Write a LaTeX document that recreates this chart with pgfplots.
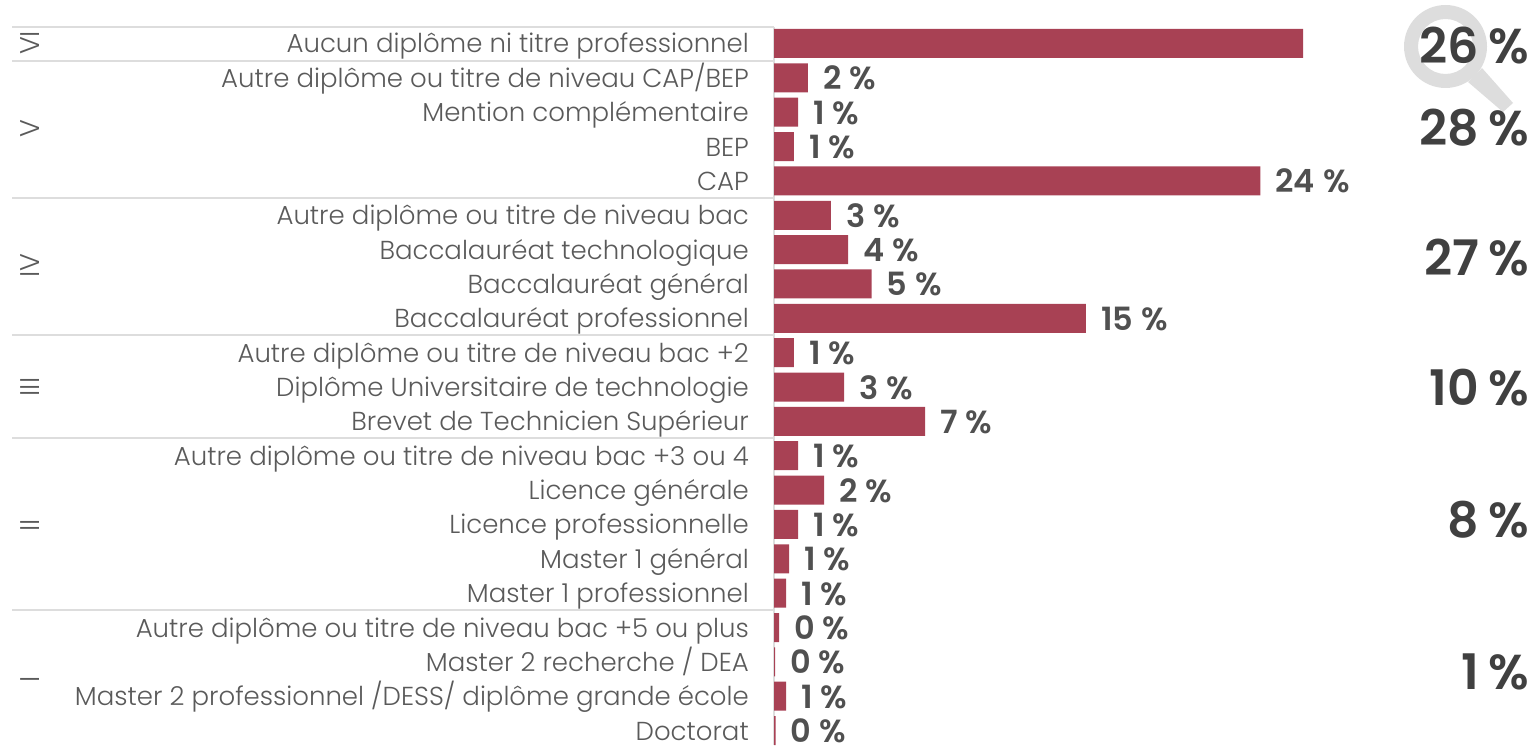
\documentclass[border=0pt]{standalone}
\usepackage{fontspec}
\setmainfont{Poppins Light}[BoldFont={Poppins SemiBold}]
\usepackage{pgfplots}
\pgfplotsset{compat=1.18}
\definecolor{barc}{HTML}{A84154}
\definecolor{txt}{HTML}{5A5A5A}
\definecolor{val}{HTML}{505050}
\definecolor{big}{HTML}{404040}
\definecolor{rule}{HTML}{DDDDDD}
\newcommand\pc[1]{#1\hspace{8pt}\%}
\begin{document}
\begin{tikzpicture}[x=1pt,y=1pt]
\path[use as bounding box] (0,0) rectangle (1538,745);
% magnifier
\fill[rule,even odd rule] (1445.5,698.5) circle (41.5) (1445.5,698.5) circle (27.5);
\fill[rule] (1468,663) -- (1482,677) -- (1513,642) -- (1503,633) -- cycle;
\begin{axis}[
  at={(774pt,0pt)},anchor=south west,
  scale only axis,width=764pt,height=718pt,
  xmin=0,xmax=37.54,
  y dir=reverse,ymin=-0.48,ymax=20.42,
  axis x line=none,
  axis y line=left,
  y axis line style={rule,line width=2pt,-},
  clip=false,
  xbar=0pt,bar width=29pt,
  ytick={0,...,20},
  major tick length=0pt,
  yticklabels={Aucun diplôme ni titre professionnel,Autre diplôme ou titre de niveau CAP/BEP,Mention complémentaire,BEP,CAP,Autre diplôme ou titre de niveau bac,Baccalauréat technologique,Baccalauréat général,Baccalauréat professionnel,Autre diplôme ou titre de niveau bac +2,Diplôme Universitaire de technologie,Brevet de Technicien Supérieur,Autre diplôme ou titre de niveau bac +3 ou 4,Licence générale,Licence professionnelle,Master 1 général,Master 1 professionnel,Autre diplôme ou titre de niveau bac +5 ou plus,Master 2 recherche / DEA,Master 2 professionnel /DESS/ diplôme grande école,Doctorat},
  yticklabel style={text=txt,font=\fontsize{26}{30}\selectfont,anchor=east,xshift=-25pt,yshift=-3pt,inner sep=0pt,text height=16pt,text depth=3pt},
  point meta=explicit symbolic,
  nodes near coords={\pgfplotspointmeta},
  every node near coord/.append style={anchor=west,xshift=15pt,yshift=-2pt,text=val,font=\fontsize{32}{34}\selectfont\bfseries,inner sep=0pt,text height=20pt,text depth=0pt},
]
\addplot[fill=barc,draw=none] coordinates {
(26.0,0)[] (1.67,1)[\pc{2}] (1.18,2)[\pc{1}] (0.98,3)[\pc{1}] (23.9,4)[\pc{24}] (2.8,5)[\pc{3}] (3.64,6)[\pc{4}] (4.8,7)[\pc{5}] (15.33,8)[\pc{15}] (0.98,9)[\pc{1}] (3.44,10)[\pc{3}] (7.42,11)[\pc{7}] (1.18,12)[\pc{1}] (2.46,13)[\pc{2}] (1.18,14)[\pc{1}] (0.74,15)[\pc{1}] (0.59,16)[\pc{1}] (0.25,17)[\pc{0}] (0.05,18)[\pc{0}] (0.59,19)[\pc{1}] (0.08,20)[\pc{0}]
};
\end{axis}
\foreach \y in {27,61,198,335,438,610} \draw[rule,line width=2pt] (12,745-\y) -- (774,745-\y);
\foreach \t/\y in {VI/43,V/129,IV/266,III/387,II/525,I/679}
  \node[rotate=90,text=txt,font=\fontsize{27}{30}\selectfont,inner sep=0pt] at (30,745-\y) {\t};
\foreach \t/\y in {26/46,28/128,27/258,10/388,8/520,1/672}
  \node[anchor=east,text=big,font=\fontsize{49}{52}\selectfont\bfseries,inner sep=0pt] at (1529,745-\y) {\t\hspace{9pt}\%};
\end{tikzpicture}
\end{document}
